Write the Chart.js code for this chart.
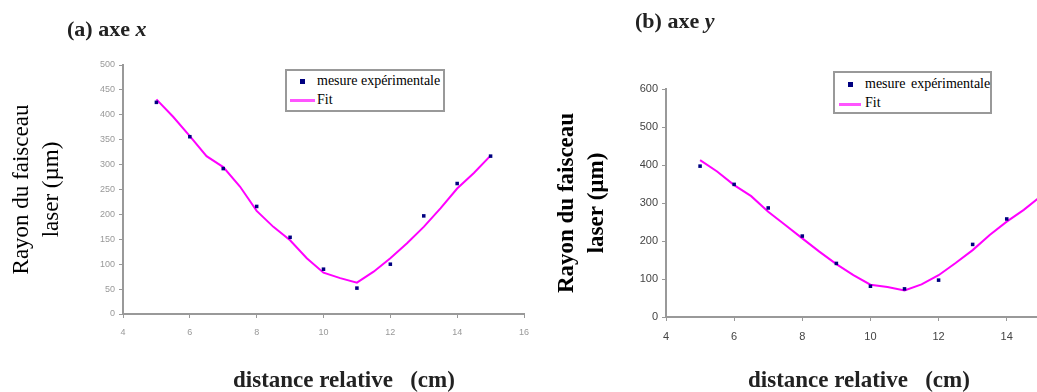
<!DOCTYPE html>
<html>
<head>
<meta charset="utf-8">
<script src="https://cdn.jsdelivr.net/npm/chart.js"></script>
<style>
  body { margin: 0; width: 1037px; height: 392px; overflow: hidden; position: relative; background: #fff;
         font-family: "Liberation Serif", "Times New Roman", serif; color: #000; }
  canvas { position: absolute; top: 0; }
  .txt { position: absolute; white-space: pre; line-height: 1; }
  .box { position: absolute; border: 2px solid #999; box-sizing: border-box; background: #fff; }
  .dot { position: absolute; width: 5px; height: 5px; background: #000080; }
  .seg { position: absolute; height: 3px; background: #ff55ff; }
</style>
</head>
<body>
<canvas id="chartA" width="540" height="392" style="left:0"></canvas>
<canvas id="chartB" width="570" height="392" style="left:520px"></canvas>

<div class="txt" style="left:67px;top:18px;font-size:22px;font-weight:bold;color:#222">(a) axe <i>x</i></div>
<div class="txt" style="left:635px;top:10px;font-size:22px;font-weight:bold;color:#222">(b) axe <i>y</i></div>

<div class="txt" style="left:233px;top:368px;font-size:23px;font-weight:bold;color:#222">distance relative   (cm)</div>
<div class="txt" style="left:748px;top:368px;font-size:23px;font-weight:bold;color:#222">distance relative   (cm)</div>

<div class="box" style="left:285px;top:69px;width:160px;height:43px"></div>
<div class="dot" style="left:300px;top:79px"></div>
<div class="txt" style="left:317px;top:74px;font-size:14px">mesure expérimentale</div>
<div class="seg" style="left:290px;top:99px;width:25px"></div>
<div class="txt" style="left:317px;top:93px;font-size:14px">Fit</div>

<div class="box" style="left:833px;top:71px;width:159px;height:43px"></div>
<div class="dot" style="left:848px;top:82px"></div>
<div class="txt" style="left:865px;top:77px;font-size:14px;word-spacing:2px">mesure expérimentale</div>
<div class="seg" style="left:839px;top:103px;width:22px"></div>
<div class="txt" style="left:865px;top:96px;font-size:14px">Fit</div>

<script>
// distances relatives (cm)
const distance = [5, 6, 7, 8, 9, 10, 11, 12, 13, 14, 15];
const fitDistance = [5, 5.5, 6, 6.5, 7, 7.5, 8, 8.5, 9, 9.5, 10, 10.5, 11, 11.5, 12, 12.5, 13, 13.5, 14, 14.5, 15];

// (a) axe x
const mesureAxeX = [425, 356, 292, 216, 154, 90, 52, 100, 197, 262, 317];
const fitAxeX = [431, 396, 357, 317, 295, 256, 207, 175, 148, 112, 83, 72, 63, 85, 112, 142, 175, 212, 252, 283, 318];

// (b) axe y
const mesureAxeY = [397, 349, 287, 213, 141, 81, 74, 97, 191, 258, 318];
const fitAxeY = [413, 383, 347, 318, 277, 242, 207, 172, 139, 110, 85, 79, 70, 86, 110, 142, 176, 216, 251, 282, 318];

const ticksX = [4, 6, 8, 10, 12, 14, 16];
const ticksYa = [0, 50, 100, 150, 200, 250, 300, 350, 400, 450, 500];
const ticksYb = [0, 100, 200, 300, 400, 500, 600];

function pts(xs, ys) {
  return xs.map((x, i) => ({ x: x, y: ys[i] }));
}

function makeChart(id, cfg) {
  new Chart(document.getElementById(id), {
    type: 'scatter',
    data: {
      datasets: [{
        label: 'mesure expérimentale',
        data: pts(distance, cfg.mesure),
        pointStyle: 'rect',
        pointRadius: 2.5,
        borderWidth: 0,
        backgroundColor: '#000080'
      }, {
        label: 'Fit',
        data: pts(fitDistance, cfg.fit),
        showLine: true,
        pointRadius: 0,
        borderColor: '#ff00ff',
        borderWidth: 2,
        tension: 0
      }]
    },
    options: {
      responsive: false,
      animation: false,
      layout: { padding: { left: 0, top: cfg.top, right: cfg.right, bottom: 0 } },
      plugins: { legend: { display: false }, tooltip: { enabled: false } },
      scales: {
        x: {
          type: 'linear', min: 4, max: 16,
          afterBuildTicks: s => { s.ticks = ticksX.map(v => ({ value: v })); },
          afterFit: s => { s.height = 392 - cfg.bottom; },
          grid: { drawOnChartArea: false, tickLength: 4, color: '#999', lineWidth: 1 },
          border: { color: '#999', width: 2 },
          ticks: { color: cfg.tickColor, font: { family: 'Liberation Sans', size: cfg.tickSize }, padding: cfg.xPad, maxRotation: 0 }
        },
        y: {
          type: 'linear', min: 0, max: cfg.ticksY[cfg.ticksY.length - 1],
          afterBuildTicks: s => { s.ticks = cfg.ticksY.map(v => ({ value: v })); },
          afterFit: s => { s.width = cfg.left; },
          grid: { drawOnChartArea: false, tickLength: 4, color: '#999', lineWidth: 1 },
          border: { color: '#999', width: 2 },
          ticks: { color: cfg.tickColor, font: { family: 'Liberation Sans', size: cfg.tickSize }, padding: 4 },
          title: {
            display: true,
            text: ['Rayon du faisceau', 'laser (µm)'],
            color: '#000',
            font: { family: 'Liberation Serif', size: 23, weight: cfg.titleWeight, lineHeight: '30px' },
            padding: { top: cfg.titlePad, bottom: 0 }
          }
        }
      }
    }
  });
}

makeChart('chartA', {
  mesure: mesureAxeX, fit: fitAxeX, ticksY: ticksYa,
  top: 65, bottom: 314, left: 123, right: 16,
  tickColor: '#999', tickSize: 9, xPad: 9, titlePad: 7, titleWeight: 'normal'
});

makeChart('chartB', {
  mesure: mesureAxeY, fit: fitAxeY, ticksY: ticksYb,
  top: 89, bottom: 317, left: 146, right: 15,
  tickColor: '#444', tickSize: 11, xPad: 9, titlePad: 32, titleWeight: 'bold'
});
</script>
</body>
</html>
